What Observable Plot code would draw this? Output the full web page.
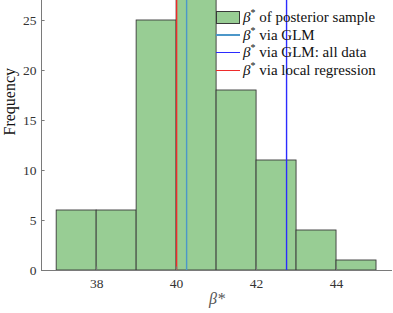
<!DOCTYPE html>
<html>
<head>
<meta charset="utf-8">
<script src="https://cdn.jsdelivr.net/npm/d3@7"></script>
<script src="https://cdn.jsdelivr.net/npm/@observablehq/plot@0.6"></script>
<style>
  body { margin: 0; background: #fff; }
  #wrap { position: relative; width: 393px; height: 313px; font-family: "Liberation Serif", serif; }
  #legend { position: absolute; left: 216px; top: 8px; font-size: 15px; color: #111; }
  .row { display: flex; align-items: center; height: 17.6px; }
  .sym { width: 24px; height: 14px; margin-right: 3px; position: relative; }
  .patch { position: absolute; left: 0; top: 1px; width: 24px; height: 13px; background: #98cd94; border: 1px solid #3a3a3a; box-sizing: border-box; }
  .line { position: absolute; left: 0; top: 7px; width: 24px; height: 1.5px; }
</style>
</head>
<body>
<div id="wrap"></div>
<script>
// Histogram bins (lower edge, upper edge) and counts
const binLo = [37, 38, 39, 40, 41, 42, 43, 44];
const binHi = [38, 39, 40, 41, 42, 43, 44, 45];
const counts = [6, 6, 25, 29, 18, 11, 4, 1];

// Reference estimates of beta*
const refNames = ["β* via GLM", "β* via GLM: all data", "β* via local regression"];
const refValues = [40.25, 42.75, 40.0];
const refColors = ["#4c97c9", "#2b2bff", "#ee2b2b"];

const xTicks = [38, 40, 42, 44];
const yTicks = [0, 5, 10, 15, 20, 25];
const xDomain = [36.62, 45.4];
const yDomain = [0, 27];

const bins = binLo.map((lo, i) => ({lo, hi: binHi[i], n: counts[i]}));
const refs = refValues.map((v, i) => ({v, name: refNames[i], color: refColors[i]}));

const axisColor = "#7a7a7a";

const chart = Plot.plot({
  width: 393,
  height: 313,
  marginLeft: 41,
  marginRight: 1,
  marginTop: 0,
  marginBottom: 43,
  style: {fontFamily: "Liberation Serif, serif", fontSize: "13px", color: "#333", background: "white"},
  x: {domain: xDomain},
  y: {domain: yDomain},
  marks: [
    Plot.rectY(bins, {x1: "lo", x2: "hi", y: "n", fill: "#98cd94", stroke: "#3a3a3a", strokeWidth: 0.9, clip: true}),
    Plot.ruleX(refs, {x: "v", stroke: "color", strokeWidth: 1.4, clip: true}),
    // axis lines
    Plot.ruleY([0], {stroke: axisColor, strokeWidth: 1}),
    Plot.ruleX([xDomain[0]], {stroke: axisColor, strokeWidth: 1}),
    // inward ticks
    Plot.ruleY(yTicks, {y: d => d, x1: xDomain[0], x2: xDomain[0] + 0.09, stroke: axisColor}),
    Plot.ruleX(xTicks, {x: d => d, y1: 0, y2: 0.35, stroke: axisColor}),
    Plot.axisY(yTicks, {tickSize: 0, tickPadding: 5, label: null, fill: "#333", fontSize: 13.5}),
    Plot.axisX(xTicks, {tickSize: 0, tickPadding: 8, label: null, fill: "#333", fontSize: 13.5}),
    Plot.text(["Frequency"], {frameAnchor: "left", dx: -32, rotate: -90, fontSize: 16, fill: "#111"}),
    Plot.text(["β*"], {frameAnchor: "bottom", dy: 33, fontSize: 16, fontStyle: "italic", fill: "#555"})
  ]
});

const wrap = document.getElementById("wrap");
wrap.appendChild(chart);

// Legend overlay
const legend = document.createElement("div");
legend.id = "legend";
const items = [{type: "patch", label: "β* of posterior sample"}].concat(
  refs.map(r => ({type: "line", color: r.color, label: r.name}))
);
for (const it of items) {
  const row = document.createElement("div");
  row.className = "row";
  const sym = document.createElement("div");
  sym.className = "sym";
  const mark = document.createElement("div");
  if (it.type === "patch") { mark.className = "patch"; }
  else { mark.className = "line"; mark.style.background = it.color; }
  sym.appendChild(mark);
  const txt = document.createElement("span");
  const rest = it.label.split("β*")[1];
  txt.innerHTML = "<i>β</i><sup style='font-size:10px'>*</sup>" + rest;
  row.appendChild(sym);
  row.appendChild(txt);
  legend.appendChild(row);
}
wrap.appendChild(legend);
</script>
</body>
</html>
